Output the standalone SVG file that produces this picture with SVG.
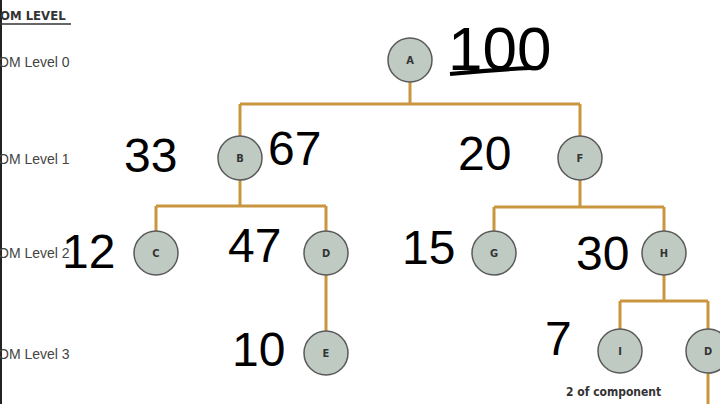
<svg xmlns="http://www.w3.org/2000/svg" width="720" height="404" viewBox="0 0 720 404">
<style>
.n circle{fill:#bfcbc2;stroke:#5a5a5a;stroke-width:1.5}
.n text{font-family:"DejaVu Sans Condensed","DejaVu Sans",sans-serif;font-weight:bold;font-size:11px;fill:#333;text-anchor:middle}
.c{stroke:#c9953f;stroke-width:3;fill:none}
.lv{font-family:"Liberation Sans",sans-serif;font-size:14px;fill:#444}
.h{font-family:"Liberation Sans",sans-serif;font-size:48px;fill:#000}
</style>
<rect width="720" height="404" fill="#fff"/>
<line x1="1" y1="0" x2="1" y2="404" stroke="#222" stroke-width="2"/>
<text x="0" y="20" style="font-family:'DejaVu Sans Condensed',sans-serif;font-weight:bold;font-size:13px;fill:#333">OM LEVEL</text>
<line x1="0" y1="24" x2="71" y2="24" stroke="#333" stroke-width="1.5"/>
<text class="lv" x="-2" y="67">OM Level 0</text>
<text class="lv" x="-2" y="164">OM Level 1</text>
<text class="lv" x="-2" y="258">OM Level 2</text>
<text class="lv" x="-2" y="359">OM Level 3</text>
<g id="connectors">
<path class="c" d="M410 82V104M240 104H580M240 104V136M580 104V136"/>
<path class="c" d="M240 180V206M156 206H326M156 206V231M326 206V231M326 275V331"/>
<path class="c" d="M580 180V207M494 207H664M494 207V231M664 207V231"/>
<path class="c" d="M664 275V301M620 301H708M620 301V329M708 301V404"/>
</g>
<g id="A" class="n"><circle cx="410" cy="60" r="22"/><text x="410" y="64">A</text></g>
<g id="B" class="n"><circle cx="240" cy="158" r="22"/><text x="240" y="162">B</text></g>
<g id="F" class="n"><circle cx="580" cy="158" r="22"/><text x="580" y="162">F</text></g>
<g id="C" class="n"><circle cx="156" cy="253" r="22"/><text x="156" y="257">C</text></g>
<g id="D" class="n"><circle cx="326" cy="253" r="22"/><text x="326" y="257">D</text></g>
<g id="G" class="n"><circle cx="494" cy="253" r="22"/><text x="494" y="257">G</text></g>
<g id="H" class="n"><circle cx="664" cy="253" r="22"/><text x="664" y="257">H</text></g>
<g id="E" class="n"><circle cx="326" cy="353" r="22"/><text x="326" y="357">E</text></g>
<g id="I" class="n"><circle cx="620" cy="351" r="22"/><text x="620" y="355">I</text></g>
<g id="D2" class="n"><circle cx="708" cy="351" r="22"/><text x="708" y="355">D</text></g>
<text x="566" y="396" style="font-family:'DejaVu Sans Condensed',sans-serif;font-weight:bold;font-size:12px;fill:#333">2 of component</text>
<g id="handwriting">
<text class="h" x="448" y="70" style="font-size:62px">100</text>
<path d="M450 74Q490 70 530 68" stroke="#000" stroke-width="4" fill="none"/>
<text class="h" x="124" y="172">33</text>
<text class="h" x="268" y="165">67</text>
<text class="h" x="458" y="170">20</text>
<text class="h" x="62" y="268">12</text>
<text class="h" x="228" y="262">47</text>
<text class="h" x="402" y="264">15</text>
<text class="h" x="576" y="270">30</text>
<text class="h" x="232" y="366">10</text>
<text class="h" x="545" y="355">7</text>
</g>
</svg>
